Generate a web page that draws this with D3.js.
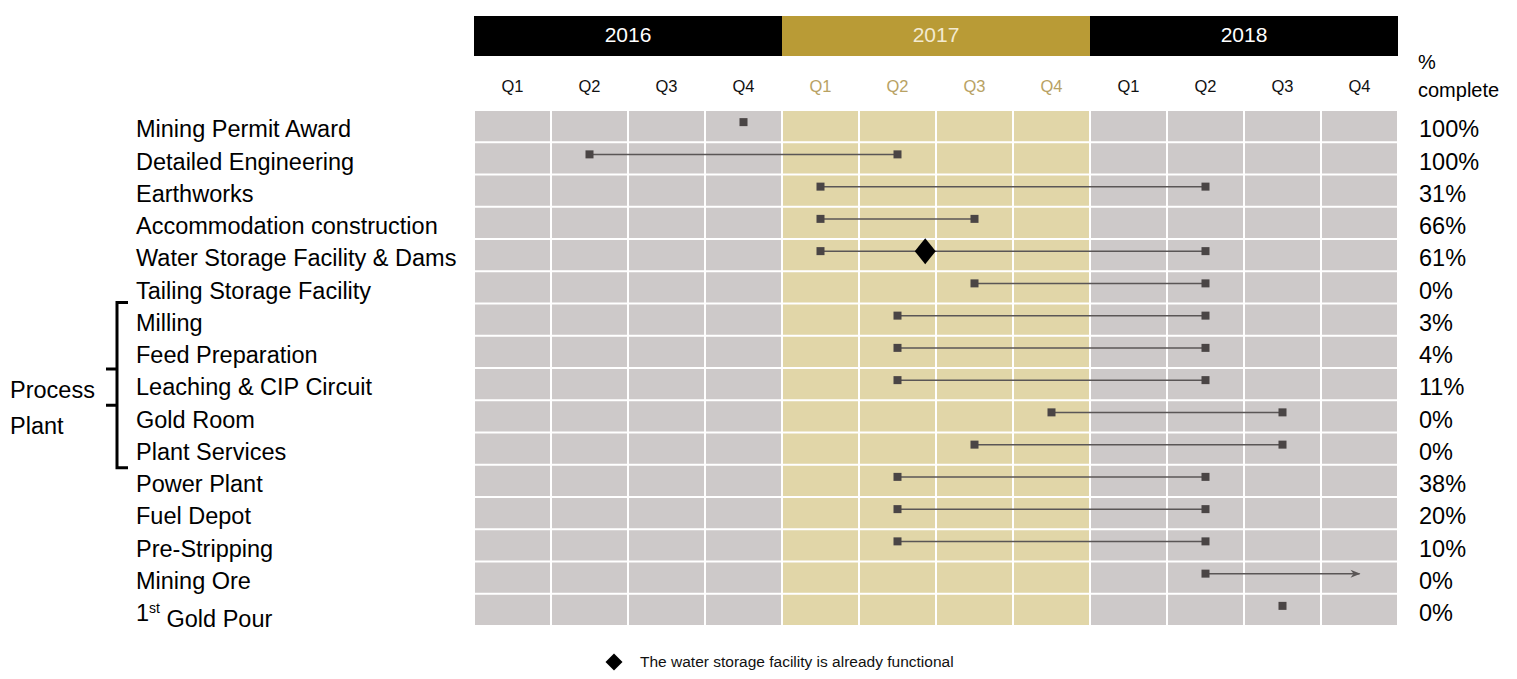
<!DOCTYPE html>
<html>
<head>
<meta charset="utf-8">
<script src="https://cdn.jsdelivr.net/npm/d3@7"></script>
<style>
  body { margin: 0; background: #fff; }
  text { font-family: "Liberation Sans", Arial, sans-serif; }
</style>
</head>
<body>
<div id="chart"></div>
<script>
// ---- data ----
var years = ["2016", "2017", "2018"];
var quarters = ["Q1", "Q2", "Q3", "Q4"];
var tasks = [
  "Mining Permit Award", "Detailed Engineering", "Earthworks", "Accommodation construction",
  "Water Storage Facility & Dams", "Tailing Storage Facility", "Milling", "Feed Preparation",
  "Leaching & CIP Circuit", "Gold Room", "Plant Services", "Power Plant", "Fuel Depot",
  "Pre-Stripping", "Mining Ore", "1st Gold Pour"
];
// quarter index, 0 = 2016 Q1 ... 11 = 2018 Q4
var startQ = [3, 1, 4, 4, 4, 6, 5, 5, 5, 7, 6, 5, 5, 5, 9, 10];
var endQ   = [null, 5, 9, 6, 9, 9, 9, 9, 9, 10, 10, 9, 9, 9, 11, null];
var openEnded = ["Mining Ore"];
var percentComplete = ["100%", "100%", "31%", "66%", "61%", "0%", "3%", "4%",
                       "11%", "0%", "0%", "38%", "20%", "10%", "0%", "0%"];
var milestoneTask = "Water Storage Facility & Dams";
var milestoneQ = 5.36;
var processPlant = ["Milling", "Feed Preparation", "Leaching & CIP Circuit", "Gold Room", "Plant Services"];
var footnote = "The water storage facility is already functional";

// ---- layout ----
var attrs = {
  svgWidth: 1517,
  svgHeight: 679,
  gridLeft: 474,
  gridRight: 1398,
  gridTop: 110,
  gridBottom: 626,
  yearTop: 16,
  yearBottom: 56,
  labelSize: 23.5,
  grey: "#cdc9c9",
  gold: "#e1d6a8",
  goldDark: "#b99b36",
  goldText: "#b8a263",
  markerColor: "#4a4545",
  lineColor: "#5a5656"
};

var qKeys = [];
years.forEach(function (y) { quarters.forEach(function (q) { qKeys.push(y + " " + q); }); });

var x = d3.scaleLinear().domain([0, qKeys.length]).range([attrs.gridLeft, attrs.gridRight]);
var xBand = d3.scaleBand().domain(qKeys).range([attrs.gridLeft, attrs.gridRight]);
var xYear = d3.scaleBand().domain(years).range([attrs.gridLeft, attrs.gridRight]);
var y = d3.scaleBand().domain(tasks).range([attrs.gridTop, attrs.gridBottom]);

function qCenter(i) { return x(i + 0.5); }
function isGoldYear(k) { return k.indexOf("2017") === 0; }
function diamondPath(hw, hh) {
  return "M0," + (-hh) + " L" + hw + ",0 L0," + hh + " L" + (-hw) + ",0 Z";
}

var svg = d3.select("#chart").append("svg")
  .attr("width", attrs.svgWidth)
  .attr("height", attrs.svgHeight);

var defs = svg.append("defs");
defs.append("marker")
  .attr("id", "arrow")
  .attr("viewBox", "0 0 10 10")
  .attr("refX", 9).attr("refY", 5)
  .attr("markerWidth", 11).attr("markerHeight", 10)
  .attr("markerUnits", "userSpaceOnUse")
  .attr("orient", "auto")
  .append("path")
  .attr("d", "M0,1 L10,5 L0,9 L3,5 Z")
  .attr("fill", attrs.lineColor);

// ---- year header ----
var yearG = svg.append("g").attr("class", "years");
yearG.selectAll("rect").data(years).enter().append("rect")
  .attr("x", function (d) { return xYear(d); })
  .attr("y", attrs.yearTop)
  .attr("width", xYear.bandwidth())
  .attr("height", attrs.yearBottom - attrs.yearTop)
  .attr("fill", function (d) { return d === "2017" ? attrs.goldDark : "#000"; });
yearG.selectAll("text").data(years).enter().append("text")
  .attr("x", function (d) { return xYear(d) + xYear.bandwidth() / 2; })
  .attr("y", (attrs.yearTop + attrs.yearBottom) / 2 - 1)
  .attr("dy", "0.35em")
  .attr("text-anchor", "middle")
  .attr("font-size", 21)
  .attr("fill", function (d) { return d === "2017" ? "#f3ead0" : "#fff"; })
  .text(function (d) { return d; });

// ---- quarter labels ----
svg.append("g").selectAll("text").data(qKeys).enter().append("text")
  .attr("x", function (d) { return xBand(d) + xBand.bandwidth() / 2; })
  .attr("y", 86)
  .attr("dy", "0.35em")
  .attr("text-anchor", "middle")
  .attr("font-size", 16.5)
  .attr("fill", function (d) { return isGoldYear(d) ? attrs.goldText : "#111"; })
  .text(function (d) { return d.split(" ")[1]; });

// ---- grid cells ----
var cells = [];
tasks.forEach(function (t) { qKeys.forEach(function (k) { cells.push({ t: t, k: k }); }); });
svg.append("g").selectAll("rect").data(cells).enter().append("rect")
  .attr("x", function (d) { return xBand(d.k) + 1; })
  .attr("y", function (d) { return y(d.t) + 1; })
  .attr("width", xBand.bandwidth() - 2)
  .attr("height", y.bandwidth() - 2)
  .attr("fill", function (d) { return isGoldYear(d.k) ? attrs.gold : attrs.grey; });

// ---- task rows ----
var rows = tasks.map(function (t, i) {
  return { task: t, start: startQ[i], end: endQ[i], pct: percentComplete[i] };
});
var markY = function (d) { return y(d.task) + y.bandwidth() / 2 - 4; };

var bars = svg.append("g").attr("class", "bars");
bars.selectAll("line").data(rows.filter(function (d) { return d.end !== null; })).enter().append("line")
  .attr("x1", function (d) { return qCenter(d.start); })
  .attr("x2", function (d) { return qCenter(d.end); })
  .attr("y1", markY)
  .attr("y2", markY)
  .attr("stroke", attrs.lineColor)
  .attr("stroke-width", 1.5)
  .attr("marker-end", function (d) { return openEnded.indexOf(d.task) >= 0 ? "url(#arrow)" : null; });

var squares = [];
rows.forEach(function (d) {
  squares.push({ task: d.task, q: d.start });
  if (d.end !== null && openEnded.indexOf(d.task) < 0) squares.push({ task: d.task, q: d.end });
});
bars.selectAll("rect").data(squares).enter().append("rect")
  .attr("x", function (d) { return qCenter(d.q) - 4; })
  .attr("y", function (d) { return markY(d) - 4; })
  .attr("width", 8)
  .attr("height", 8)
  .attr("fill", attrs.markerColor);

// milestone diamond
bars.append("path")
  .attr("d", diamondPath(10.5, 13))
  .attr("transform", "translate(" + x(milestoneQ + 0.5) + "," + markY({ task: milestoneTask }) + ")")
  .attr("fill", "#000");

// ---- task labels ----
var labelY = function (d) { return y(d) + y.bandwidth() / 2 + 3; };
var labels = svg.append("g").selectAll("text").data(tasks).enter().append("text")
  .attr("x", 136)
  .attr("y", labelY)
  .attr("dy", "0.35em")
  .attr("font-size", attrs.labelSize)
  .attr("fill", "#000");
labels.each(function (d) {
  var el = d3.select(this);
  if (d === "1st Gold Pour") {
    el.append("tspan").text("1");
    el.append("tspan").attr("font-size", 14).attr("dy", "-0.6em").text("st");
    el.append("tspan").attr("dy", "0.6em").text(" Gold Pour");
  } else {
    el.text(d);
  }
});

// ---- % complete column ----
svg.append("text").attr("x", 1418).attr("y", 69).attr("font-size", 20).text("%");
svg.append("text").attr("x", 1418).attr("y", 97).attr("font-size", 20).text("complete");
svg.append("g").selectAll("text").data(rows).enter().append("text")
  .attr("x", 1419)
  .attr("y", function (d) { return labelY(d.task); })
  .attr("dy", "0.35em")
  .attr("font-size", attrs.labelSize)
  .text(function (d) { return d.pct; });

// ---- process plant bracket ----
var pTop = y(processPlant[0]) - 1;
var pBot = y(processPlant[processPlant.length - 1]) + y.bandwidth() + 3;
var pMid1 = y("Leaching & CIP Circuit") + 1;
var pMid2 = y("Leaching & CIP Circuit") + y.bandwidth() + 5;
var bx = 117;
var bracket = svg.append("g").attr("stroke", "#000").attr("stroke-width", 3).attr("fill", "none");
bracket.append("path").attr("d",
  "M" + (bx + 11) + "," + pTop + " H" + bx + " V" + pBot + " H" + (bx + 11));
bracket.append("line").attr("x1", bx - 11).attr("x2", bx).attr("y1", pMid1).attr("y2", pMid1);
bracket.append("line").attr("x1", bx - 11).attr("x2", bx).attr("y1", pMid2).attr("y2", pMid2);
svg.append("text").attr("x", 10).attr("y", 390).attr("dy", "0.35em").attr("font-size", attrs.labelSize).text("Process");
svg.append("text").attr("x", 10).attr("y", 426).attr("dy", "0.35em").attr("font-size", attrs.labelSize).text("Plant");

// ---- footnote ----
svg.append("path")
  .attr("d", diamondPath(8.5, 8.5))
  .attr("transform", "translate(614,662)")
  .attr("fill", "#000");
svg.append("text")
  .attr("x", 640).attr("y", 662).attr("dy", "0.35em")
  .attr("font-size", 15.5)
  .attr("fill", "#111")
  .text(footnote);
</script>
</body>
</html>
